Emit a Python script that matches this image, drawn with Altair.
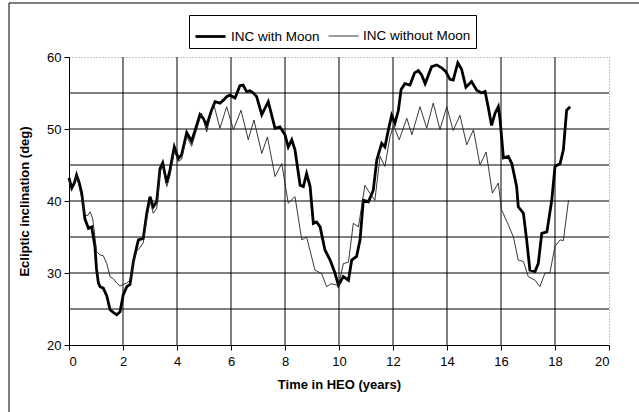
import altair as alt
import pandas as pd

# INC with Moon (years, deg)
t_with = [0.0, 0.1, 0.2, 0.28, 0.38, 0.47, 0.59, 0.72, 0.84, 0.96, 1.02, 1.09, 1.15, 1.27, 1.4, 1.52, 1.65,
          1.77, 1.89, 2.01, 2.14, 2.26, 2.38, 2.5, 2.57, 2.75, 2.88, 3.0, 3.12, 3.25, 3.37, 3.47, 3.62, 3.74,
          3.9, 4.05, 4.17, 4.36, 4.54, 4.67, 4.85, 4.97, 5.1, 5.28, 5.41, 5.59, 5.72, 5.84, 5.96, 6.15, 6.33,
          6.45, 6.58, 6.7, 6.83, 6.95, 7.14, 7.38, 7.63, 7.81, 8.0, 8.12, 8.25, 8.37, 8.56, 8.68, 8.8, 8.93,
          9.05, 9.17, 9.3, 9.48, 9.67, 9.85, 9.98, 10.16, 10.35, 10.47, 10.65, 10.78, 10.9, 11.09, 11.27,
          11.4, 11.58, 11.7, 11.83, 11.95, 12.07, 12.2, 12.3, 12.44, 12.63, 12.8, 12.94, 13.06, 13.19, 13.43,
          13.62, 13.8, 13.95, 14.11, 14.23, 14.4, 14.54, 14.7, 14.91, 15.1, 15.28, 15.41, 15.53, 15.65,
          15.78, 15.9, 15.96, 16.09, 16.27, 16.4, 16.58, 16.64, 16.83, 16.95, 17.07, 17.26, 17.38, 17.51,
          17.7, 17.88, 18.0, 18.19, 18.31, 18.43, 18.56]
v_with = [43.2, 41.8, 42.5, 43.6, 42.5, 41.1, 37.5, 36.2, 36.4, 33.7, 30.5, 28.6, 28.1, 27.9, 26.8, 24.9, 24.5,
          24.2, 24.6, 27.0, 28.1, 28.4, 31.5, 33.5, 34.6, 34.8, 38.3, 40.6, 39.2, 39.9, 44.5, 45.3, 42.5, 44.3,
          47.5, 45.9, 46.4, 49.5, 48.3, 49.8, 52.0, 51.5, 50.5, 52.6, 53.8, 53.6, 54.0, 54.5, 54.7, 54.3, 56.0,
          56.1, 55.2, 55.3, 55.0, 54.5, 52.0, 53.8, 50.1, 50.3, 49.2, 47.5, 48.5, 47.1, 42.2, 42.0, 43.8, 42.0,
          36.9, 37.1, 36.4, 33.2, 31.8, 30.0, 28.3, 29.5, 29.0, 31.8, 32.3, 34.6, 40.1, 39.9, 41.5,
          45.7, 48.0, 47.5, 49.9, 51.9, 50.8, 52.6, 55.5, 56.3, 56.1, 57.8, 58.1, 57.5, 56.3, 58.65,
          58.9, 58.5, 58.0, 56.9, 56.8, 59.2, 58.3, 55.8, 56.6, 55.4, 55.0, 55.2, 53.0, 50.5,
          52.2, 53.1, 51.5, 46.0, 46.2, 45.2, 42.0, 39.2, 38.3, 34.6, 30.4, 30.2, 31.3, 35.5,
          35.7, 40.1, 44.8, 45.2, 47.1, 52.6, 53.1]

# INC without Moon (years, deg)
t_without = [0.0, 0.1, 0.2, 0.28, 0.38, 0.47, 0.59, 0.7, 0.78, 0.88, 0.96, 1.02, 1.15, 1.27, 1.4, 1.52, 1.64,
             1.77, 1.89, 2.01, 2.14, 2.26, 2.38, 2.5, 2.62, 2.75, 2.88, 3.0, 3.12, 3.25, 3.37, 3.47, 3.62,
             3.74, 3.9, 4.05, 4.17, 4.36, 4.54, 4.67, 4.91, 5.1, 5.35, 5.59, 5.84, 6.09, 6.37, 6.64, 6.85,
             7.14, 7.35, 7.63, 7.88, 8.12, 8.37, 8.62, 8.8, 9.11, 9.36, 9.54, 9.7, 9.85, 9.98, 10.16, 10.35,
             10.53, 10.72, 10.96, 11.14, 11.33, 11.52, 11.7, 11.89, 12.02, 12.23, 12.51, 12.7, 13.0, 13.25,
             13.49, 13.74, 13.99, 14.23, 14.48, 14.73, 14.98, 15.22, 15.45, 15.68, 15.9, 16.02, 16.27,
             16.46, 16.64, 16.83, 17.01, 17.26, 17.44, 17.63, 17.81, 18.0, 18.19, 18.31, 18.5]
v_without = [43.0, 41.5, 42.3, 43.6, 42.0, 40.5, 38.0, 38.0, 38.5, 37.5, 35.0, 33.0, 32.5, 32.4, 31.3, 29.5, 29.2,
             28.6, 28.2, 28.4, 28.6, 29.0, 31.5, 33.0, 33.5, 34.2, 37.5, 40.0, 38.3, 39.0, 44.0, 45.0, 42.0,
             43.5, 47.0, 45.5, 45.8, 49.0, 47.6, 49.2, 52.2, 49.6, 53.6, 50.1, 53.1, 49.9, 52.6, 48.5, 51.25,
             46.6, 48.9, 43.4, 45.2, 39.7, 40.6, 34.6, 35.0, 30.4, 29.9, 28.1, 28.5, 28.4, 28.2, 31.3, 31.5,
             36.9, 36.4, 42.2, 41.1, 40.1, 46.2, 44.8, 48.9, 50.5, 48.5, 51.5, 49.2, 53.1, 50.1,
             53.6, 49.9, 53.1, 49.8, 51.9, 47.8, 49.9, 45.0, 46.8, 41.1, 42.5, 38.8, 36.7,
             35.0, 31.8, 31.6, 29.5, 29.0, 28.1, 30.0, 30.0, 33.7, 34.6, 34.5, 40.1]

series_names = ["INC with Moon", "INC without Moon"]
x_ticks = [0, 2, 4, 6, 8, 10, 12, 14, 16, 18, 20]
y_ticks = [20, 25, 30, 35, 40, 45, 50, 55, 60]
x_grid = [2, 4, 6, 8, 10, 12, 14, 16, 18]
y_grid = [25, 30, 35, 40, 45, 50, 55]

df = pd.concat([
    pd.DataFrame({"t": t_with, "v": v_with, "series": series_names[0], "order": range(len(t_with))}),
    pd.DataFrame({"t": t_without, "v": v_without, "series": series_names[1], "order": range(len(t_without))}),
])

FONT = "Liberation Sans"
xscale = alt.Scale(domain=[0, 20], nice=False)
yscale = alt.Scale(domain=[20, 60], nice=False)

frame = alt.Chart(pd.DataFrame({"a": [0]})).mark_rect(
    fill=None, stroke="black", strokeWidth=1
).encode(
    x=alt.value(-60), x2=alt.value(580), y=alt.value(-54), y2=alt.value(365)
)

grid_x = alt.Chart(pd.DataFrame({"t": x_grid})).mark_rule(color="black", strokeWidth=1).encode(
    x=alt.X("t:Q", scale=xscale)
)
grid_y = alt.Chart(pd.DataFrame({"v": y_grid})).mark_rule(color="black", strokeWidth=1).encode(
    y=alt.Y("v:Q", scale=yscale)
)

leg = dict(orient="none", legendX=120, legendY=-42, direction="horizontal",
           symbolType="stroke", symbolSize=900, strokeColor="black", padding=5,
           columnPadding=6, labelFontSize=13.5, labelFont=FONT, labelColor="black",
           labelOffset=4, symbolOffset=0)

lines = alt.Chart(df).mark_line(interpolate="linear").encode(
    x=alt.X("t:Q", scale=xscale,
            axis=alt.Axis(values=x_ticks, title="Time in HEO (years)", format="d",
                          labelPadding=5, titlePadding=10)),
    y=alt.Y("v:Q", scale=yscale,
            axis=alt.Axis(values=y_ticks, title="Ecliptic inclination (deg)",
                          labelPadding=3, titlePadding=15)),
    color=alt.Color("series:N", title=None,
                    scale=alt.Scale(domain=series_names, range=["#000000", "#222222"]),
                    legend=alt.Legend(**leg)),
    strokeWidth=alt.StrokeWidth("series:N", title=None,
                                scale=alt.Scale(domain=series_names, range=[2.8, 0.9]),
                                legend=alt.Legend(**leg)),
    order="order:Q",
)

chart = alt.layer(frame, grid_x, grid_y, lines).properties(
    width=540, height=288,
    autosize=alt.AutoSizeParams(type="none"),
    padding={"left": 69, "top": 57, "right": 30, "bottom": 67},
    background="white",
).configure_view(
    stroke="#888888", strokeDash=[1, 2]
).configure_axis(
    grid=False, domainColor="black", tickColor="black", tickSize=5,
    labelFont=FONT, labelFontSize=13, labelColor="black",
    titleFont=FONT, titleFontSize=13, titleFontWeight="bold", titleColor="black",
)

chart.save("out.html", embed_options={"renderer": "svg", "actions": False})
